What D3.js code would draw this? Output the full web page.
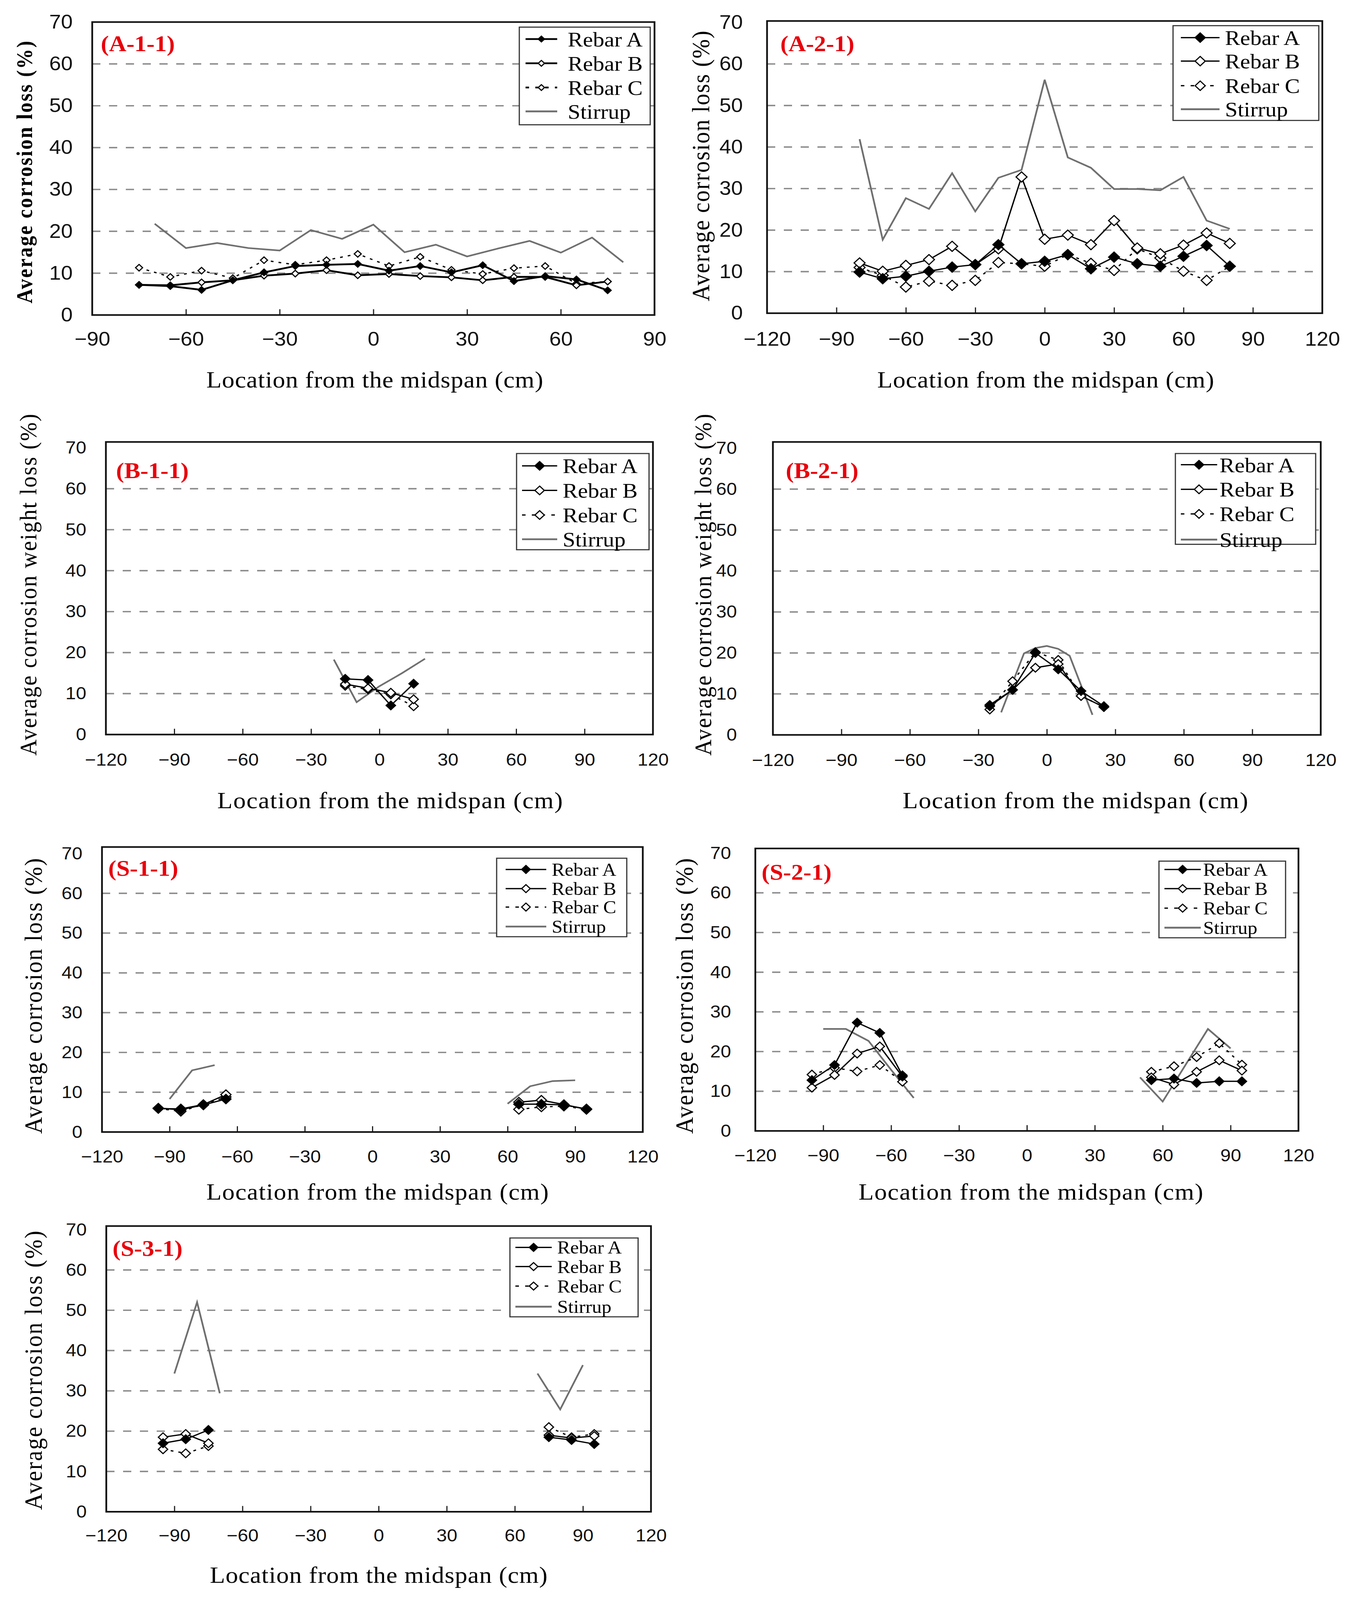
<!DOCTYPE html>
<html><head><meta charset="utf-8">
<script src="https://cdn.jsdelivr.net/npm/d3@7"></script>
<style>html,body{margin:0;padding:0;background:#fff;overflow:hidden;width:100%;height:100%}
svg{display:block}</style>
</head><body>
<svg id="c" viewBox="0 0 3460 4424" preserveAspectRatio="none" style="width:100vw;height:100vh" xmlns="http://www.w3.org/2000/svg"></svg>
<script>
// ---------------- DATA ----------------
const yTicks = [0, 10, 20, 30, 40, 50, 60, 70];
const gridValues = [10, 20, 30, 40, 50, 60];
const xTicksA11 = [-90, -60, -30, 0, 30, 60, 90];
const xTicksWide = [-120, -90, -60, -30, 0, 30, 60, 90, 120];
const legendLabels = ["Rebar A", "Rebar B", "Rebar C", "Stirrup"];
const panelLabels = ["(A-1-1)", "(A-2-1)", "(B-1-1)", "(B-2-1)", "(S-1-1)", "(S-2-1)", "(S-3-1)"];
const yTitleLoss = "Average corrosion loss (%)";
const yTitleWeight = "Average corrosion weight loss (%)";
const xTitle = "Location from the midspan (cm)";

// A-1-1
const a11RebarX = [-75, -65, -55, -45, -35, -25, -15, -5, 5, 15, 25, 35, 45, 55, 65, 75];
const a11RebarA = [7.2, 6.9, 6.0, 8.3, 10.2, 11.7, 12.0, 12.2, 10.6, 11.7, 10.2, 11.9, 8.1, 9.3, 8.5, 5.9];
const a11RebarB = [7.2, 7.1, 7.8, 8.3, 9.4, 9.9, 10.7, 9.5, 9.8, 9.3, 9.0, 8.3, 9.1, 9.1, 7.1, 8.0];
const a11RebarC = [11.3, 9.1, 10.6, 8.8, 13.1, 12.0, 13.1, 14.6, 11.7, 13.9, 10.8, 9.8, 11.2, 11.7, 7.5, 8.0];
const a11StirrupX = [-70, -60, -50, -40, -30, -20, -10, 0, 10, 20, 30, 40, 50, 60, 70, 80];
const a11Stirrup = [21.8, 16.0, 17.2, 16.0, 15.4, 20.3, 18.2, 21.6, 15.0, 16.8, 14.0, 15.9, 17.7, 14.9, 18.5, 12.6];

// A-2-1
const a21RebarX = [-80, -70, -60, -50, -40, -30, -20, -10, 0, 10, 20, 30, 40, 50, 60, 70, 80];
const a21RebarA = [9.9, 8.3, 8.9, 10.1, 11.1, 11.7, 16.5, 11.9, 12.5, 14.1, 10.7, 13.5, 11.9, 11.3, 13.7, 16.3, 11.3];
const a21RebarB = [12.1, 10.1, 11.5, 12.9, 16.1, 11.7, 15.5, 32.8, 17.8, 18.8, 16.5, 22.3, 15.7, 14.3, 16.4, 19.3, 16.8];
const a21RebarC = [11.0, 9.1, 6.3, 7.7, 6.7, 7.9, 12.2, 11.9, 11.3, 14.1, 12.0, 10.3, 15.5, 13.3, 10.1, 7.9, 11.3];
const a21StirrupX = [-80, -70, -60, -50, -40, -30, -20, -10, 0, 10, 20, 30, 40, 50, 60, 70, 80];
const a21Stirrup = [41.9, 17.7, 27.7, 25.1, 33.7, 24.5, 32.6, 34.5, 56.2, 37.5, 35.0, 29.9, 29.9, 29.6, 32.8, 22.3, 20.3];

// B-1-1
const b11RebarX = [-15, -5, 5, 15];
const b11RebarA = [13.6, 13.3, 7.1, 12.4];
const b11RebarB = [12.3, 11.3, 10.2, 8.6];
const b11RebarC = [11.9, 11.0, 9.8, 6.9];
const b11StirrupX = [-20, -10, 0, 10, 20];
const b11Stirrup = [18.3, 7.9, 11.8, 15.0, 18.5];

// B-2-1
const b21RebarX = [-25, -15, -5, 5, 15, 25];
const b21RebarA = [7.3, 11.0, 20.0, 16.0, 10.7, 7.0];
const b21RebarB = [7.0, 11.0, 16.4, 17.3, 9.5, 6.8];
const b21RebarC = [6.2, 13.1, 20.2, 18.3, 9.5, 6.8];
const b21StirrupX = [-20, -10, -5, 0, 5, 10, 20];
const b21Stirrup = [5.5, 19.9, 21.2, 21.7, 21.0, 19.3, 4.9];

// S-1-1
const s11RebarX = [-95, -85, -75, -65, 65, 75, 85, 95];
const s11RebarA = [6.0, 5.6, 6.8, 8.3, 7.0, 7.0, 6.8, 5.8];
const s11RebarB = [5.9, 5.8, 6.9, 9.4, 7.5, 8.0, 6.9, 5.7];
const s11RebarC = [5.9, 5.2, 6.9, 8.8, 5.7, 6.3, 6.5, 5.7];
const s11StirrupX = [-90, -80, -70, 60, 70, 80, 90];
const s11Stirrup = [8.3, 15.5, 16.8, 7.1, 11.5, 12.8, 13.0];

// S-2-1
const s21RebarX = [-95, -85, -75, -65, -55, 55, 65, 75, 85, 95];
const s21RebarA = [12.8, 16.6, 27.3, 24.7, 14.0, 12.8, 13.2, 12.1, 12.5, 12.5];
const s21RebarB = [10.9, 14.1, 19.5, 21.3, 13.7, 13.5, 11.7, 14.9, 17.8, 15.2];
const s21RebarC = [14.2, 15.9, 15.0, 16.6, 12.4, 14.9, 16.3, 18.6, 22.1, 16.7];
const s21StirrupX = [-90, -80, -70, -60, -50, 50, 60, 80, 90];
const s21Stirrup = [25.7, 25.7, 22.7, 15.4, 8.3, 13.5, 7.4, 25.7, 20.8];

// S-3-1
const s31RebarX = [-95, -85, -75, 75, 85, 95];
const s31RebarA = [17.0, 18.0, 20.3, 18.5, 17.8, 16.8];
const s31RebarB = [18.5, 19.3, 17.0, 19.0, 18.3, 18.8];
const s31RebarC = [15.5, 14.5, 16.3, 21.0, 18.5, 19.3];
const s31StirrupX = [-90, -80, -70, 70, 80, 90];
const s31Stirrup = [34.3, 52.0, 29.4, 34.3, 25.4, 36.4];

// ---------------- LAYOUT ----------------
const SERIF = "'Liberation Serif','DejaVu Serif',serif";
const NARROW = "'Liberation Sans Narrow','Liberation Sans',Arial,sans-serif";
const SANS = "'Liberation Sans',Arial,sans-serif";

const panels = [
  { label: panelLabels[0], lx: 258, ly: 142, left: 236, right: 1675, top: 61, frameTop: 61, bottom: 871,
    xDomain: [-90, 90], xTicks: xTicksA11, tickFont: NARROW, tickSize: 54, yGap: 50, xPad: 46,
    yTitle: yTitleLoss, ytx: 62, yty: 476, ytLen: 726, ytBold: true, ytSize: 56,
    xtx: 959, xty: 1071, xtLen: 862,
    mk: 9, lw: 5,
    rx: a11RebarX, A: a11RebarA, B: a11RebarB, C: a11RebarC, sx: a11StirrupX, S: a11Stirrup,
    lg: { x0: 1329, y0: 75, x1: 1664, y1: 345, rows: [108, 175, 242, 308], tx: 1453, s0: 1345, s1: 1426, fs: 58, mk: 8 } },
  { label: panelLabels[1], lx: 1997, ly: 142, left: 1963, right: 3384, top: 62, frameTop: 58, bottom: 866,
    xDomain: [-120, 120], xTicks: xTicksWide, tickFont: NARROW, tickSize: 54, yGap: 62, xPad: 52,
    yTitle: yTitleLoss, ytx: 1793, yty: 459, ytLen: 748, ytBold: false, ytSize: 64,
    xtx: 2676, xty: 1071, xtLen: 862,
    mk: 14, lw: 3.5,
    rx: a21RebarX, A: a21RebarA, B: a21RebarB, C: a21RebarC, sx: a21StirrupX, S: a21Stirrup,
    lg: { x0: 3002, y0: 71, x1: 3375, y1: 333, rows: [104, 169, 237, 302], tx: 3135, s0: 3022, s1: 3121, fs: 58, mk: 13 } },
  { label: panelLabels[2], lx: 297, ly: 1322, left: 271, right: 1671, top: 1238, frameTop: 1222, bottom: 2031,
    xDomain: [-120, 120], xTicks: xTicksWide, tickFont: SANS, tickSize: 48, yGap: 50, xPad: 52,
    yTitle: yTitleWeight, ytx: 71, yty: 1617, ytLen: 945, ytBold: false, ytSize: 62,
    xtx: 998, xty: 2235, xtLen: 884,
    mk: 12, lw: 3.5,
    rx: b11RebarX, A: b11RebarA, B: b11RebarB, C: b11RebarC, sx: b11StirrupX, S: b11Stirrup,
    lg: { x0: 1322, y0: 1254, x1: 1661, y1: 1520, rows: [1288, 1356, 1424, 1491], tx: 1440, s0: 1336, s1: 1426, fs: 58, mk: 12 } },
  { label: panelLabels[3], lx: 2011, ly: 1322, left: 1978, right: 3380, top: 1239, frameTop: 1222, bottom: 2032,
    xDomain: [-120, 120], xTicks: xTicksWide, tickFont: SANS, tickSize: 48, yGap: 92, xPad: 52,
    yTitle: yTitleWeight, ytx: 1798, yty: 1617, ytLen: 945, ytBold: false, ytSize: 62,
    xtx: 2752, xty: 2235, xtLen: 884,
    mk: 12, lw: 3.5,
    rx: b21RebarX, A: b21RebarA, B: b21RebarB, C: b21RebarC, sx: b21StirrupX, S: b21Stirrup,
    lg: { x0: 3008, y0: 1254, x1: 3367, y1: 1505, rows: [1285, 1353, 1421, 1492], tx: 3121, s0: 3022, s1: 3115, fs: 58, mk: 12 } },
  { label: panelLabels[4], lx: 277, ly: 2422, left: 261, right: 1645, top: 2360, frameTop: 2342, bottom: 3130,
    xDomain: [-120, 120], xTicks: xTicksWide, tickFont: SANS, tickSize: 48, yGap: 50, xPad: 50,
    yTitle: yTitleLoss, ytx: 85, yty: 2754, ytLen: 762, ytBold: false, ytSize: 64,
    xtx: 966, xty: 3317, xtLen: 876,
    mk: 13, lw: 3.5,
    rx: s11RebarX, A: s11RebarA, B: s11RebarB, C: s11RebarC, sx: s11StirrupX, S: s11Stirrup,
    lg: { x0: 1271, y0: 2373, x1: 1604, y1: 2590, rows: [2404, 2457, 2508, 2562], tx: 1412, s0: 1294, s1: 1398, fs: 50, mk: 11 } },
  { label: panelLabels[5], lx: 1949, ly: 2432, left: 1933, right: 3323, top: 2359, frameTop: 2346, bottom: 3127,
    xDomain: [-120, 120], xTicks: xTicksWide, tickFont: SANS, tickSize: 48, yGap: 62, xPad: 50,
    yTitle: yTitleLoss, ytx: 1751, yty: 2754, ytLen: 762, ytBold: false, ytSize: 64,
    xtx: 2638, xty: 3317, xtLen: 882,
    mk: 12, lw: 3.5,
    rx: s21RebarX, A: s21RebarA, B: s21RebarB, C: s21RebarC, sx: s21StirrupX, S: s21Stirrup,
    lg: { x0: 2966, y0: 2381, x1: 3290, y1: 2593, rows: [2404, 2457, 2511, 2565], tx: 3079, s0: 2980, s1: 3073, fs: 50, mk: 11 } },
  { label: panelLabels[6], lx: 288, ly: 3472, left: 272, right: 1666, top: 3400, frameTop: 3390, bottom: 4180,
    xDomain: [-120, 120], xTicks: xTicksWide, tickFont: SANS, tickSize: 48, yGap: 50, xPad: 48,
    yTitle: yTitleLoss, ytx: 85, yty: 3789, ytLen: 772, ytBold: false, ytSize: 64,
    xtx: 969, xty: 4376, xtLen: 864,
    mk: 12, lw: 3.5,
    rx: s31RebarX, A: s31RebarA, B: s31RebarB, C: s31RebarC, sx: s31StirrupX, S: s31Stirrup,
    lg: { x0: 1305, y0: 3423, x1: 1633, y1: 3641, rows: [3449, 3502, 3556, 3613], tx: 1426, s0: 1319, s1: 1412, fs: 50, mk: 11 } }
];

// ---------------- DRAW ----------------
const svg = d3.select("#c");
svg.append("rect").attr("width", 3460).attr("height", 4424).attr("fill", "#fff");

const STIR = "#6f6f6f";
const diamond = s => `M0,${-s}L${s},0L0,${s}L${-s},0Z`;

function segments(xs, vs) {
  const pts = xs.map((x, i) => ({ x, v: vs[i] }));
  const out = [[]];
  pts.forEach((p, i) => {
    if (i > 0 && p.x - pts[i - 1].x > 30) out.push([]);
    out[out.length - 1].push(p);
  });
  return out;
}

function drawPanel(p) {
  const g = svg.append("g");
  const x = d3.scaleLinear().domain(p.xDomain).range([p.left, p.right]);
  const y = d3.scaleLinear().domain([0, 70]).range([p.bottom, p.top]);

  // grid
  g.selectAll("line.grid").data(gridValues).join("line")
    .attr("x1", p.left).attr("x2", p.right)
    .attr("y1", d => y(d)).attr("y2", d => y(d))
    .attr("stroke", "#8c8c8c").attr("stroke-width", 4).attr("stroke-dasharray", "21,22");

  // axes
  const xa = g.append("g").attr("transform", `translate(0,${p.bottom})`)
    .call(d3.axisBottom(x).tickValues(p.xTicks).tickSize(-16).tickPadding(p.xPad));
  xa.select(".domain").remove();
  xa.selectAll(".tick line").attr("stroke", "#222").attr("stroke-width", 3);
  xa.selectAll("text").attr("font-family", p.tickFont).attr("font-size", p.tickSize).attr("fill", "#111");

  const ya = g.append("g").attr("transform", `translate(${p.left},0)`)
    .call(d3.axisLeft(y).tickValues(yTicks).tickSize(0).tickPadding(p.yGap));
  ya.select(".domain").remove();
  ya.selectAll("text").attr("font-family", p.tickFont).attr("font-size", p.tickSize).attr("fill", "#111");

  // frame
  g.append("rect").attr("x", p.left).attr("y", p.frameTop)
    .attr("width", p.right - p.left).attr("height", p.bottom - p.frameTop)
    .attr("fill", "none").attr("stroke", "#111").attr("stroke-width", 4.5);

  const line = d3.line().x(d => x(d.x)).y(d => y(d.v));

  // stirrup
  segments(p.sx, p.S).forEach(seg => {
    g.append("path").attr("d", line(seg)).attr("fill", "none")
      .attr("stroke", STIR).attr("stroke-width", 4.5).attr("stroke-linejoin", "miter");
  });

  // rebars: C (dotted), B, A
  const series = [
    { v: p.C, dash: "7,13", fill: "#fff" },
    { v: p.B, dash: null, fill: "#fff" },
    { v: p.A, dash: null, fill: "#000" }
  ];
  series.forEach(s => {
    segments(p.rx, s.v).forEach(seg => {
      g.append("path").attr("d", line(seg)).attr("fill", "none")
        .attr("stroke", "#000").attr("stroke-width", s.dash ? 3.5 : p.lw)
        .attr("stroke-dasharray", s.dash);
    });
    g.selectAll(null).data(p.rx.map((xx, i) => ({ x: xx, v: s.v[i] }))).join("path")
      .attr("d", diamond(p.mk))
      .attr("transform", d => `translate(${x(d.x)},${y(d.v)})`)
      .attr("fill", s.fill).attr("stroke", "#000").attr("stroke-width", 3);
  });

  // legend
  const L = p.lg;
  g.append("rect").attr("x", L.x0).attr("y", L.y0).attr("width", L.x1 - L.x0).attr("height", L.y1 - L.y0)
    .attr("fill", "#fff").attr("stroke", "#333").attr("stroke-width", 3);
  legendLabels.forEach((lab, i) => {
    const cy = L.rows[i];
    const cx = (L.s0 + L.s1) / 2;
    if (i < 3) {
      g.append("line").attr("x1", L.s0).attr("x2", L.s1).attr("y1", cy).attr("y2", cy)
        .attr("stroke", "#000").attr("stroke-width", p.lw)
        .attr("stroke-dasharray", i === 2 ? "9,16" : null);
      g.append("path").attr("d", diamond(L.mk)).attr("transform", `translate(${cx},${cy})`)
        .attr("fill", i === 0 ? "#000" : "#fff").attr("stroke", "#000").attr("stroke-width", 3);
    } else {
      g.append("line").attr("x1", L.s0).attr("x2", L.s1).attr("y1", cy).attr("y2", cy)
        .attr("stroke", STIR).attr("stroke-width", 5);
    }
    g.append("text").attr("x", L.tx).attr("y", cy).attr("dy", "0.35em")
      .attr("font-family", SERIF).attr("font-size", L.fs).attr("fill", "#000").text(lab);
  });

  // panel label
  g.append("text").attr("x", p.lx).attr("y", p.ly)
    .attr("font-family", SERIF).attr("font-weight", "bold").attr("font-size", 62)
    .attr("fill", "#e8000b").text(p.label);

  // axis titles
  g.append("text").attr("transform", `translate(${p.ytx},${p.yty}) rotate(-90)`)
    .attr("text-anchor", "middle").attr("dy", "0.35em")
    .attr("font-family", SERIF).attr("font-weight", p.ytBold ? "bold" : "normal")
    .attr("font-size", p.ytSize).attr("textLength", p.ytLen).attr("fill", "#000").text(p.yTitle);
  g.append("text").attr("x", p.xtx).attr("y", p.xty).attr("text-anchor", "middle")
    .attr("font-family", SERIF).attr("font-size", 64).attr("textLength", p.xtLen)
    .attr("fill", "#000").text(xTitle);
}

panels.forEach(drawPanel);
</script>
</body></html>
